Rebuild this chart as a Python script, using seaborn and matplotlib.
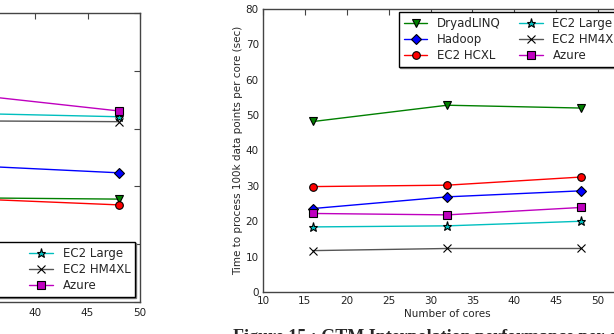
import matplotlib
matplotlib.use("Agg")
import matplotlib.pyplot as plt
import seaborn as sns

# series names and styles (same order in both charts)
names = ['DryadLINQ', 'Hadoop', 'EC2 HCXL', 'EC2 Large', 'EC2 HM4XL', 'Azure']
colors = ['#008000', '#0000ff', '#ff0000', '#00bfbf', '#555555', '#bf00bf']
markers = ['v', 'D', 'o', '*', 'x', 's']

# right chart: time per core (sec)
cores = [16, 32, 48]
dryad_t = [48.2, 52.8, 52.0]
hadoop_t = [23.6, 26.9, 28.6]
hcxl_t = [29.8, 30.2, 32.5]
large_t = [18.4, 18.7, 20.0]
hm4xl_t = [11.7, 12.3, 12.3]
azure_t = [22.2, 21.8, 23.9]

# left chart (only the right end is visible): parallel efficiency
cores_left = [32, 48]
dryad_e = [0.361, 0.356]
hadoop_e = [0.475, 0.447]
hcxl_e = [0.360, 0.336]
large_e = [0.654, 0.641]
hm4xl_e = [0.627, 0.624]
azure_e = [0.725, 0.661]

sns.set_style("white")
plt.rcParams['font.family'] = ['DejaVu Sans']
plt.rcParams.update({
    'xtick.direction': 'in', 'ytick.direction': 'in',
    'xtick.top': True, 'ytick.right': True,
    'xtick.major.size': 4, 'ytick.major.size': 4,
    'xtick.color': '#444444', 'ytick.color': '#444444',
    'xtick.labelcolor': '#222222', 'ytick.labelcolor': '#222222',
    'axes.edgecolor': '#444444', 'axes.linewidth': 1.0,
})

W, H = 614, 334
fig = plt.figure(figsize=(W / 100, H / 100), dpi=100)


def px_axes(x0, y0, x1, y1):
    # pixel box (top-left origin) -> figure axes
    return fig.add_axes([x0 / W, (H - y1) / H, (x1 - x0) / W, (y1 - y0) / H])


def draw(ax, xs, series):
    for name, ys, c, m in zip(names, series, colors, markers):
        ms = 6.5 if m == '*' else 5.5
        sns.lineplot(x=xs, y=ys, ax=ax, color=c, marker=m, markersize=ms,
                     markeredgecolor='k', markeredgewidth=0.8,
                     markerfacecolor=c, linewidth=1.0, label=name)


leg_kw = dict(ncol=2, bbox_transform=fig.transFigure, borderaxespad=0,
              fontsize=8.5, labelspacing=0.28, handlelength=2,
              handletextpad=0.8, frameon=True,
              fancybox=False, edgecolor='k', framealpha=1,
              shadow={'ox': 1, 'oy': -1, 'alpha': 1, 'shade': 0.5})

# left chart, mostly off the page
axl = px_axes(-280, 13, 140, 302)
draw(axl, cores_left, [dryad_e, hadoop_e, hcxl_e, large_e, hm4xl_e, azure_e])
axl.set_xlim(10, 50)
axl.set_ylim(0, 1.0)
axl.set_xticks(range(10, 51, 5))
axl.set_yticks([0, 0.2, 0.4, 0.6, 0.8, 1.0])
axl.tick_params(labelsize=7.5, pad=4)
axl.legend(loc='lower right', bbox_to_anchor=(135 / W, (H - 297) / H),
           columnspacing=2.8, **leg_kw)

# right chart
axr = px_axes(263, 9, 263 + 44 * 8.375, 292)
draw(axr, cores, [dryad_t, hadoop_t, hcxl_t, large_t, hm4xl_t, azure_t])
axr.set_xlim(10, 54)
axr.set_ylim(0, 80)
axr.set_xticks(range(10, 51, 5))
axr.set_yticks(range(0, 81, 10))
axr.tick_params(labelsize=7.5, pad=3)
axr.set_xlabel('Number of cores', fontsize=7.5, labelpad=2)
axr.set_ylabel('Time to process 100k data points per core (sec)', fontsize=7.5, labelpad=2)
axr.legend(loc='upper left', bbox_to_anchor=(399 / W, (H - 12) / H),
           columnspacing=1.6, **leg_kw)

# figure captions, cut by the page edge
cap = dict(family='Liberation Serif', fontweight='bold', fontsize=13, va='baseline')
fig.text(-26 / W, (H - 347) / H, 'parallel efficiency', **cap)
fig.text(233 / W, (H - 342) / H, 'Figure 15 : GTM Interpolation performance per core', **cap)

fig.savefig('out.png', dpi=100)
